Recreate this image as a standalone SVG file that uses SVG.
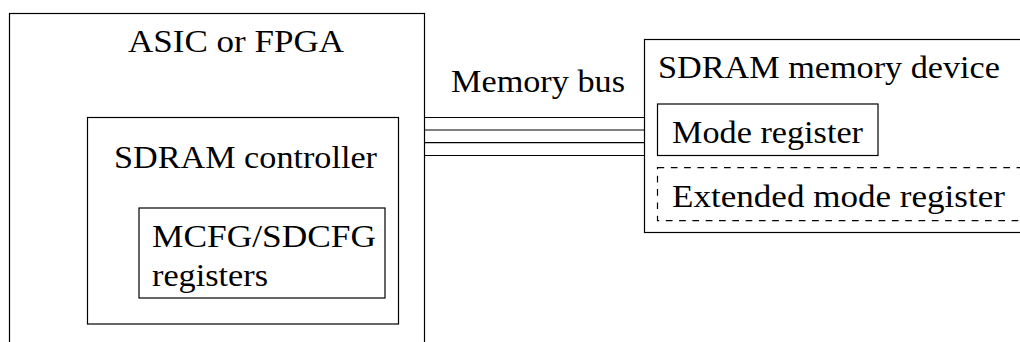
<svg xmlns="http://www.w3.org/2000/svg" width="1020" height="342" viewBox="0 0 1020 342">
<style>
.box{fill:none;stroke:#000;stroke-width:1.2}
.dash{fill:none;stroke:#000;stroke-width:1.2;stroke-dasharray:6.7 6.6}
.bus{stroke:#000;stroke-width:1.2}
text{font-family:"Liberation Serif","Times New Roman",serif;font-size:31px;fill:#000}
</style>
<rect width="1020" height="342" fill="#fff"/>
<g id="asic">
<rect class="box" x="9.5" y="13.5" width="415" height="360"/>
<text x="128" y="52.3" textLength="216" lengthAdjust="spacingAndGlyphs">ASIC or FPGA</text>
</g>
<g id="controller">
<rect class="box" x="87.5" y="117.5" width="311" height="206.5"/>
<text x="114" y="168.3" textLength="263" lengthAdjust="spacingAndGlyphs">SDRAM controller</text>
</g>
<g id="mcfg">
<rect class="box" x="139" y="208" width="246" height="90"/>
<text x="152" y="247" textLength="224" lengthAdjust="spacingAndGlyphs">MCFG/SDCFG</text>
<text x="152" y="285.5" textLength="116" lengthAdjust="spacingAndGlyphs">registers</text>
</g>
<g id="connectors">
<line class="bus" x1="424.5" y1="117.5" x2="644.5" y2="117.5"/>
<line class="bus" x1="424.5" y1="130" x2="644.5" y2="130"/>
<line class="bus" x1="424.5" y1="142.7" x2="644.5" y2="142.7"/>
<line class="bus" x1="424.5" y1="155.5" x2="644.5" y2="155.5"/>
<text x="451" y="91.7" textLength="174" lengthAdjust="spacingAndGlyphs">Memory bus</text>
</g>
<g id="device">
<rect class="box" x="644.5" y="39.5" width="400" height="193"/>
<text x="658" y="77.7" textLength="342" lengthAdjust="spacingAndGlyphs">SDRAM memory device</text>
</g>
<g id="mode">
<rect class="box" x="657.5" y="104" width="220.5" height="51.5"/>
<text x="672" y="142.7" textLength="191" lengthAdjust="spacingAndGlyphs">Mode register</text>
</g>
<g id="extmode">
<rect class="dash" x="657.5" y="167.7" width="380" height="53"/>
<text x="672" y="206.7" textLength="333" lengthAdjust="spacingAndGlyphs">Extended mode register</text>
</g>
</svg>
